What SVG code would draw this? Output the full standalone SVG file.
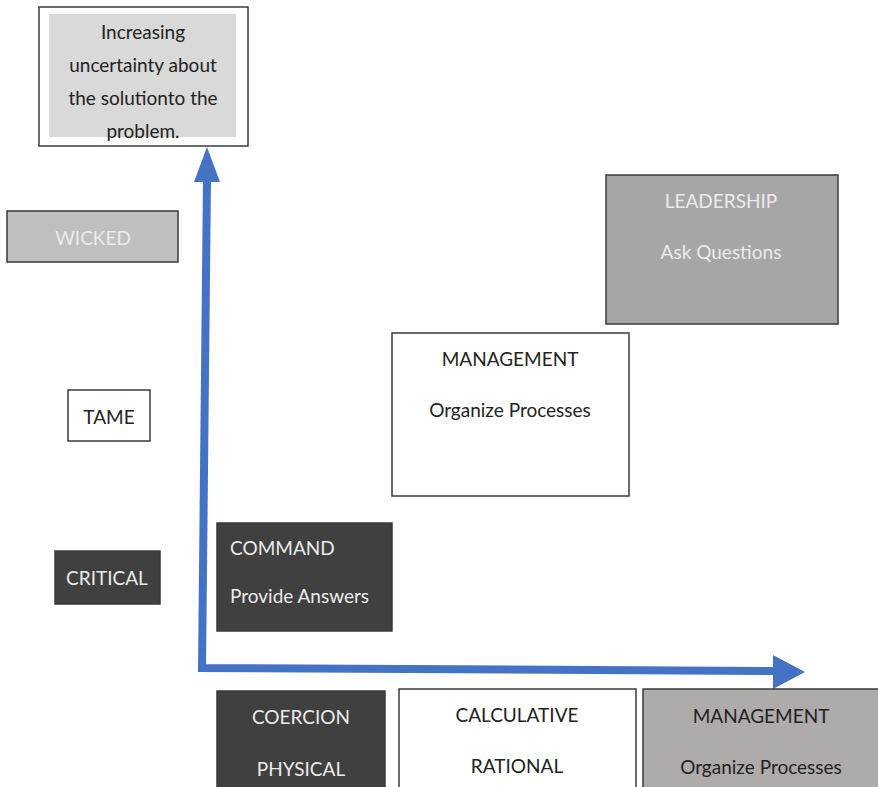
<svg xmlns="http://www.w3.org/2000/svg" width="878" height="787" viewBox="0 0 878 787">
<style>
text{font-family:Lato,"Liberation Sans",sans-serif;font-size:19px;text-anchor:middle;dominant-baseline:central}
.box{stroke:#3a3a3a;stroke-width:1.5}
.dark{fill:#404040}
.lt{fill:#ebebeb}
.dk{fill:#222222}
.axis{fill:none;stroke:#4472c4;stroke-width:8;stroke-linejoin:miter}
</style>
<rect width="878" height="787" fill="#ffffff"/>
<g id="uncertainty">
<rect class="box" x="39" y="7" width="209" height="139" fill="#ffffff"/>
<rect x="49" y="14" width="187" height="123" fill="#d9d9d9"/>
<text class="dk" x="143" y="31">Increasing</text>
<text class="dk" x="143" y="64">uncertainty about</text>
<text class="dk" x="143" y="97">the solutionto the</text>
<text class="dk" x="143" y="130">problem.</text>
</g>
<g id="connectors">
<polyline class="axis" points="207,178 202,668 778,671"/>
<polygon points="207,147 220,182 194,182" fill="#4472c4"/>
<polygon points="805,672 773,655 773,689" fill="#4472c4"/>
</g>
<g id="wicked">
<rect class="box" x="7" y="211" width="171" height="51" fill="#bfbfbf"/>
<text class="lt" x="93" y="237">WICKED</text>
</g>
<g id="tame">
<rect class="box" x="68" y="390" width="82" height="51" fill="#ffffff"/>
<text class="dk" x="109" y="416">TAME</text>
</g>
<g id="critical">
<rect class="box dark" x="55" y="551" width="105" height="53"/>
<text class="lt" x="107" y="577">CRITICAL</text>
</g>
<g id="command">
<rect class="box dark" x="217" y="523" width="175" height="108"/>
<text class="lt" x="230" y="547" style="text-anchor:start">COMMAND</text>
<text class="lt" x="230" y="595" style="text-anchor:start">Provide Answers</text>
</g>
<g id="leadership">
<rect class="box" x="606" y="175" width="232" height="149" fill="#a6a6a6"/>
<text class="lt" x="721" y="200">LEADERSHIP</text>
<text class="lt" x="721" y="251">Ask Questions</text>
</g>
<g id="management-mid">
<rect class="box" x="392" y="333" width="237" height="163" fill="#ffffff"/>
<text class="dk" x="510" y="358">MANAGEMENT</text>
<text class="dk" x="510" y="409">Organize Processes</text>
</g>
<g id="coercion">
<rect class="box dark" x="217" y="691" width="168" height="100"/>
<text class="lt" x="301" y="716">COERCION</text>
<text class="lt" x="301" y="768">PHYSICAL</text>
</g>
<g id="calculative">
<rect class="box" x="399" y="689" width="237" height="102" fill="#ffffff"/>
<text class="dk" x="517" y="714">CALCULATIVE</text>
<text class="dk" x="517" y="765">RATIONAL</text>
</g>
<g id="management-bottom">
<rect class="box" x="643" y="689" width="240" height="102" fill="#afabab"/>
<text class="dk" x="761" y="715">MANAGEMENT</text>
<text class="dk" x="761" y="766">Organize Processes</text>
</g>
</svg>
